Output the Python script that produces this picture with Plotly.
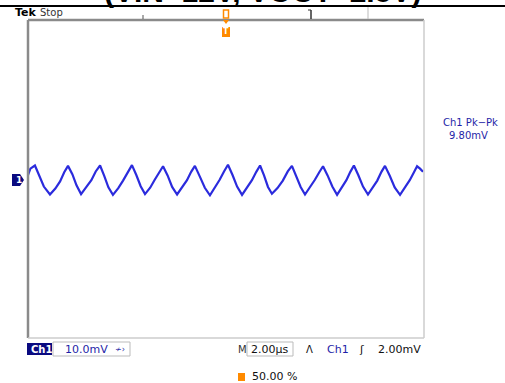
import plotly.graph_objects as go

t_us = [0.00, 0.12, 0.35,
        0.58, 0.80, 1.11, 1.38, 1.62, 1.83, 2.02,
        2.24, 2.45, 2.68, 2.95, 3.20, 3.42, 3.64,
        3.85, 4.06, 4.29, 4.56, 4.80, 5.04, 5.25,
        5.47, 5.69, 5.91, 6.17, 6.40, 6.62, 6.82,
        7.05, 7.28, 7.53, 7.80, 8.03, 8.24, 8.43,
        8.68, 8.93, 9.19, 9.45, 9.68, 9.90, 10.10,
        10.33, 10.56, 10.81, 11.07, 11.31, 11.53, 11.72,
        11.92, 12.12, 12.32, 12.60, 12.87, 13.12, 13.33,
        13.55, 13.77, 13.99, 14.25, 14.49, 14.71, 14.90,
        15.13, 15.37, 15.61, 15.86, 16.08, 16.28, 16.46,
        16.68, 16.92, 17.17, 17.42, 17.64, 17.85, 18.03,
        18.27, 18.52, 18.79, 19.05, 19.28, 19.48, 19.65,
        19.80, 19.95]
v_mV = [1.0, 2.6, 3.4,
        0.9, -1.9, -3.9, -2.4, -0.6, 1.7, 3.3,
        1.2, -1.6, -3.8, -2.0, -0.3, 1.9, 3.4,
        0.8, -2.1, -4.0, -2.3, -0.4, 1.8, 3.5,
        1.0, -1.8, -3.8, -2.2, -0.2, 1.7, 3.2,
        0.9, -2.0, -3.9, -2.0, -0.3, 1.8, 3.3,
        0.6, -2.2, -4.1, -2.1, -0.2, 1.9, 3.6,
        1.0, -1.9, -4.0, -2.2, -0.3, 1.8, 3.4,
        0.9, -2.0, -3.7, -2.3, -0.4, 1.9, 3.3,
        0.8, -2.0, -3.9, -2.0, -0.2, 1.7, 3.2,
        0.9, -1.9, -4.0, -2.1, -0.3, 1.8, 3.4,
        1.0, -1.9, -3.9, -2.2, -0.4, 1.8, 3.3,
        0.8, -2.1, -4.0, -2.2, -0.3, 1.6, 3.2,
        2.6, 1.8]

title_text = "(VIN=12V, VOUT=2.5V)"
x_range = [0, 20]     # 10 div x 2.00 us
y_range = [-40, 40]   # 8 div x 10.0 mV

# ---- geometry helpers (page pixels -> paper) ----
W, H = 505, 383
L, R, T, B = 28, 424, 20, 338
PW, PH = R - L, B - T


def px(x):
    return (x - L) / PW


def py(y):
    return (B - y) / PH


BLUE = "#2b2bdd"
NAVY = "#0a0a80"
ORANGE = "#ff8a00"
TXTBLUE = "#1f1fa8"

fig = go.Figure()
fig.add_trace(go.Scatter(x=t_us, y=v_mV, mode="lines",
                         line=dict(color=BLUE, width=2.2),
                         hoverinfo="skip", showlegend=False))

shapes = []
# frame (bevelled look)
shapes.append(dict(type="line", xref="paper", yref="paper", x0=px(L), x1=px(L), y0=py(T), y1=py(B),
                   line=dict(color="#8a8a8a", width=2.5)))
shapes.append(dict(type="line", xref="paper", yref="paper", x0=px(L), x1=px(R), y0=py(T), y1=py(T),
                   line=dict(color="#8a8a8a", width=2.5)))
shapes.append(dict(type="line", xref="paper", yref="paper", x0=px(R), x1=px(R), y0=py(T), y1=py(B),
                   line=dict(color="#cccccc", width=1.5)))
shapes.append(dict(type="line", xref="paper", yref="paper", x0=px(L), x1=px(R), y0=py(B), y1=py(B),
                   line=dict(color="#cccccc", width=1.5)))
# title underline
shapes.append(dict(type="line", xref="paper", yref="paper", x0=px(0), x1=px(W), y0=py(6), y1=py(6),
                   line=dict(color="#000000", width=2)))
# top ticks
shapes.append(dict(type="line", xref="paper", yref="paper", x0=px(143), x1=px(143), y0=py(15), y1=py(19),
                   line=dict(color="#555555", width=1)))
shapes.append(dict(type="line", xref="paper", yref="paper", x0=px(311), x1=px(311), y0=py(10), y1=py(19),
                   line=dict(color="#333333", width=1.5)))
shapes.append(dict(type="line", xref="paper", yref="paper", x0=px(308), x1=px(311), y0=py(10), y1=py(10),
                   line=dict(color="#333333", width=1)))
shapes.append(dict(type="line", xref="paper", yref="paper", x0=px(368), x1=px(368), y0=py(7), y1=py(19),
                   line=dict(color="#bbbbbb", width=1)))
# trigger position marker (orange)
shapes.append(dict(type="rect", xref="paper", yref="paper", x0=px(223.5), x1=px(228.5), y0=py(18), y1=py(10),
                   line=dict(color=ORANGE, width=1.5), fillcolor="white"))
shapes.append(dict(type="path", xref="paper", yref="paper",
                   path="M %f,%f L %f,%f L %f,%f Z" % (px(223), py(20), px(229), py(20), px(226), py(24)),
                   fillcolor=ORANGE, line=dict(color=ORANGE, width=0)))
shapes.append(dict(type="rect", xref="paper", yref="paper", x0=px(222), x1=px(230), y0=py(37), y1=py(27),
                   fillcolor=ORANGE, line=dict(color=ORANGE, width=0)))
# channel 1 ground marker
shapes.append(dict(type="path", xref="paper", yref="paper",
                   path="M %f,%f L %f,%f L %f,%f L %f,%f L %f,%f Z" % (
                       px(12), py(174), px(20), py(174), px(24), py(180), px(20), py(186), px(12), py(186)),
                   fillcolor=NAVY, line=dict(color=NAVY, width=0)))
# bottom readout boxes
shapes.append(dict(type="rect", xref="paper", yref="paper", x0=px(27), x1=px(52), y0=py(355), y1=py(343),
                   fillcolor=NAVY, line=dict(color=NAVY, width=0)))
shapes.append(dict(type="rect", xref="paper", yref="paper", x0=px(53), x1=px(130), y0=py(356), y1=py(342),
                   fillcolor="rgba(0,0,0,0)", line=dict(color="#bbbbbb", width=1)))
shapes.append(dict(type="rect", xref="paper", yref="paper", x0=px(247), x1=px(293), y0=py(356), y1=py(342),
                   fillcolor="rgba(0,0,0,0)", line=dict(color="#bbbbbb", width=1)))
shapes.append(dict(type="rect", xref="paper", yref="paper", x0=px(238), x1=px(245), y0=py(381), y1=py(373),
                   fillcolor=ORANGE, line=dict(color=ORANGE, width=0)))

F = "DejaVu Sans"
ann = []


def add_text(x, y, text, size=10, color="#000000", xanchor="left", bold=False, family=F):
    ann.append(dict(xref="paper", yref="paper", x=px(x), y=py(y), text=("<b>%s</b>" % text) if bold else text,
                    showarrow=False, xanchor=xanchor, yanchor="middle",
                    font=dict(family=family, size=size, color=color)))


# cut-off title (top of it runs off the page, as in the capture)
ann.append(dict(xref="paper", yref="paper", x=px(262), y=py(10.5), text="<b>%s</b>" % title_text,
                showarrow=False, xanchor="center", yanchor="bottom",
                font=dict(family="Liberation Sans", size=30, color="#000000")))
add_text(13, 12, "Tek", size=11, bold=True)
add_text(38, 12, "Stop", size=10, color="#333333")
add_text(226, 32, "T", size=8, color="#ffffff", xanchor="center", bold=True)
add_text(14, 180, "1", size=9, color="#ffffff", bold=True)
add_text(470, 122, "Ch1 Pk\u2212Pk", size=10, color=TXTBLUE, xanchor="center")
add_text(469, 135, "9.80mV", size=10, color=TXTBLUE, xanchor="center")
add_text(29, 349, "Ch1", size=10, color="#ffffff", bold=True)
add_text(63, 349, "10.0mV", size=11, color=TXTBLUE)
add_text(113, 349, "\u2241\u203a", size=8, color=TXTBLUE)
add_text(236, 349, "M", size=10, color="#333333")
add_text(249, 349, "2.00\u00b5s", size=11, color="#111111")
add_text(304, 349, "\u039b", size=10, color="#111111")
add_text(325, 349, "Ch1", size=11, color=TXTBLUE)
add_text(357, 349, "\u0283", size=11, color="#111111")
add_text(376, 349, "2.00mV", size=11, color="#111111")
add_text(250, 376, "50.00 %", size=11, color="#111111")

fig.update_layout(
    width=W, height=H,
    margin=dict(l=L, r=W - R, t=T, b=H - B, pad=0),
    paper_bgcolor="white", plot_bgcolor="white",
    xaxis=dict(range=x_range, showgrid=False, zeroline=False, showticklabels=False, ticks="",
               showline=False, fixedrange=True),
    yaxis=dict(range=y_range, showgrid=False, zeroline=False, showticklabels=False, ticks="",
               showline=False, fixedrange=True),
    shapes=shapes, annotations=ann, showlegend=False,
)

fig.write_html("out.html")
